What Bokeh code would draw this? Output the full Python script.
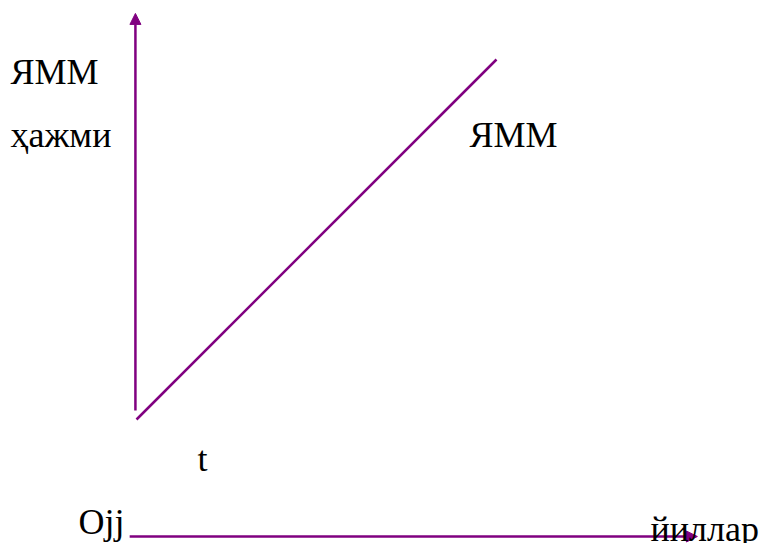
from bokeh.plotting import figure
from bokeh.models import Range1d, Arrow, NormalHead, Label
from bokeh.embed import file_html
from bokeh.resources import INLINE

# Data: GDP (ЯММ) volume grows linearly over years
years = [0, 10]
gdp_volume = [0, 10]

# Axis extents (data units)
y_axis_x = -0.03
y_axis_from = 0.25
y_axis_to = 11.28
x_axis_y = -3.25
x_axis_from = -0.19
x_axis_to = 15.58

# Labels
label_y_top = "ЯММ"
label_y_bottom = "ҳажми"
label_series = "ЯММ"
label_t = "t"
label_origin = "Ojj"
label_x = "йиллар"

PURPLE = "#800080"

p = figure(width=762, height=543, output_backend="svg", toolbar_location=None,
           x_range=Range1d(-3.7778, 17.3889), y_range=Range1d(-3.4444, 11.6389),
           min_border=0)
p.axis.visible = False
p.grid.visible = False
p.outline_line_color = None
p.background_fill_color = "white"
p.border_fill_color = "white"

# series line
p.line(years, gdp_volume, line_color=PURPLE, line_width=2.5)

# axes arrows
p.add_layout(Arrow(end=NormalHead(size=11, fill_color=PURPLE, line_color=PURPLE, line_width=1),
                   x_start=y_axis_x, y_start=y_axis_from, x_end=y_axis_x, y_end=y_axis_to,
                   line_color=PURPLE, line_width=2.5))
p.add_layout(Arrow(end=NormalHead(size=11, fill_color=PURPLE, line_color=PURPLE, line_width=1),
                   x_start=x_axis_from, y_start=x_axis_y, x_end=x_axis_to, y_end=x_axis_y,
                   line_color=PURPLE, line_width=2.5))

for tx, lx, ly in [(label_y_top, -3.5, 9.639), (label_y_bottom, -3.5, 7.889),
                   (label_series, 9.25, 7.889), (label_t, 1.694, -1.111),
                   (label_origin, -1.611, -2.861), (label_x, 14.278, -3.028)]:
    p.add_layout(Label(x=lx, y=ly, text=tx, text_font="Liberation Serif",
                       text_font_size="36px", text_color="black",
                       text_align="left", text_baseline="alphabetic"))

open("out.html", "w").write(file_html(p, INLINE))
